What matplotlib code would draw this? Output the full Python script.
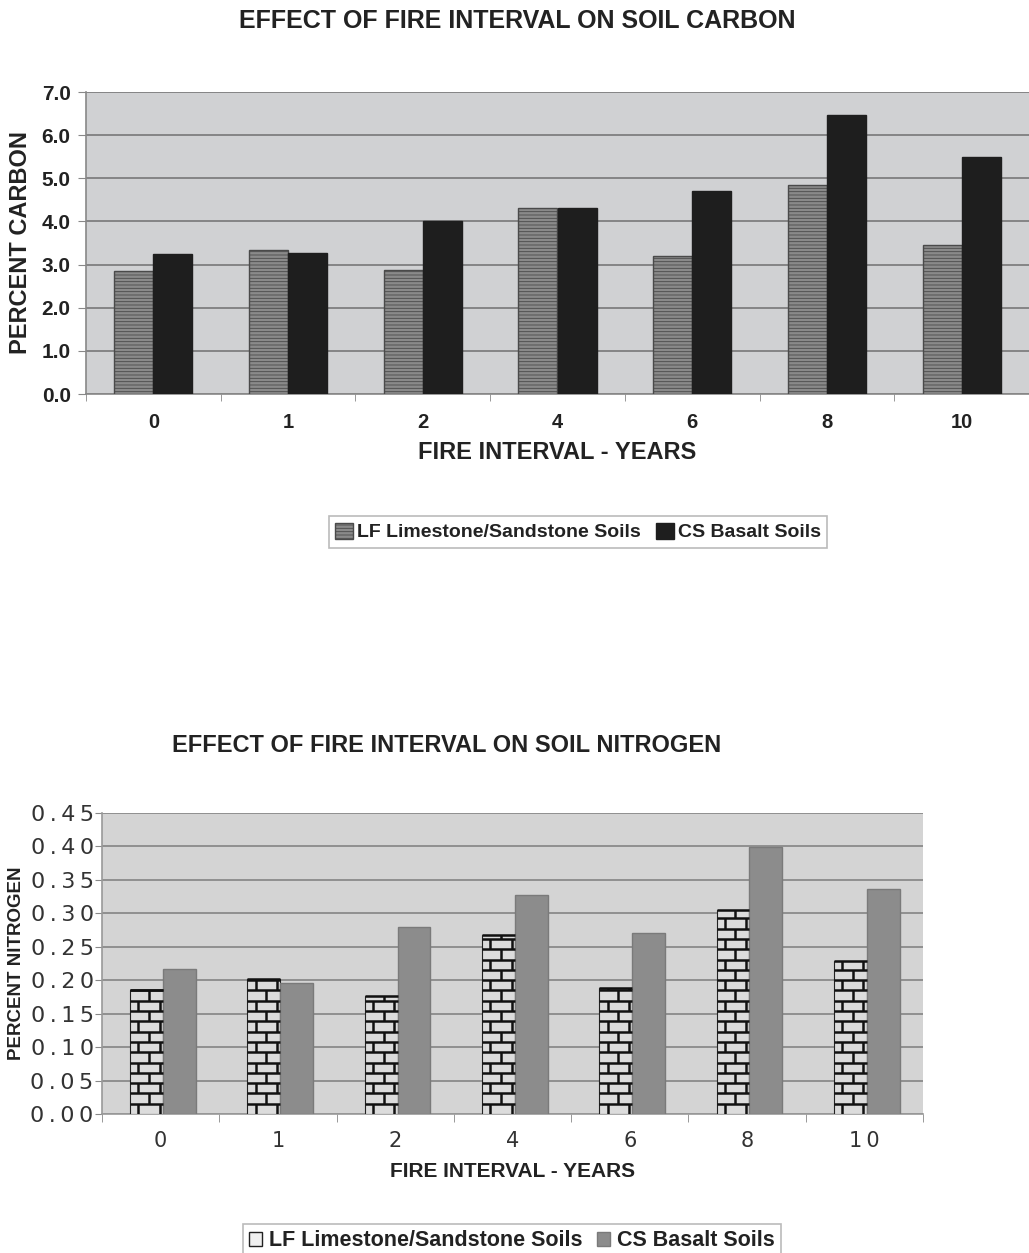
import numpy as np
import matplotlib
matplotlib.use("Agg")
import matplotlib.pyplot as plt
from matplotlib.collections import LineCollection
from matplotlib.patches import Patch

# fire interval categories (years)
intervals = ["0", "1", "2", "4", "6", "8", "10"]

# percent soil carbon
carbon_lf = [2.85, 3.33, 2.88, 4.31, 3.20, 4.85, 3.46]
carbon_cs = [3.25, 3.26, 4.02, 4.32, 4.71, 6.47, 5.50]

# percent soil nitrogen
nitrogen_lf = [0.185, 0.202, 0.177, 0.268, 0.188, 0.305, 0.228]
nitrogen_cs = [0.217, 0.196, 0.279, 0.327, 0.270, 0.399, 0.336]

lf_label = "LF Limestone/Sandstone Soils"
cs_label = "CS Basalt Soils"

plt.rcParams['font.family'] = ['Liberation Sans', 'DejaVu Sans']
plt.rcParams['hatch.linewidth'] = 0.6

W, H = 1029, 1253
fig = plt.figure(figsize=(W / 100, H / 100), dpi=100)


def box(left, top, right, bottom):
    # pixel box -> figure fraction
    return [left / W, 1 - bottom / H, (right - left) / W, (bottom - top) / H]


def draw_bricks(ax, rect, row_h):
    """Brick pattern drawn over a bar, rows/joints derived from the bar itself."""
    x0, w, h = rect.get_x(), rect.get_width(), rect.get_height()
    segs = []
    n_rows = int(np.ceil(h / row_h))
    for k in range(n_rows):
        y_lo = k * row_h
        y_hi = min((k + 1) * row_h, h)
        segs.append([(x0, y_hi), (x0 + w, y_hi)])
        start = 0.25 if k % 2 == 0 else 0.575
        pos = start
        while pos < 1.0:
            segs.append([(x0 + pos * w, y_lo), (x0 + pos * w, y_hi)])
            pos += 0.65
    lc = LineCollection(segs, colors='#111111', linewidths=1.8, zorder=4)
    lc.set_clip_path(rect)
    ax.add_collection(lc)


x = np.arange(len(intervals))

# ---------------- carbon chart ----------------
ax1 = fig.add_axes(box(86, 92, 1029, 394))
ax1.set_facecolor('#d0d1d3')
bw1 = 0.29
ax1.bar(x - bw1 / 2, carbon_lf, bw1, color='#8a8a8a', edgecolor='#4a4a4a',
        hatch='-----', linewidth=1.0, zorder=3)
ax1.bar(x + bw1 / 2, carbon_cs, bw1, color='#1e1e1e', edgecolor='#1e1e1e',
        linewidth=1.0, zorder=3)
ax1.set_xlim(-0.5, -0.5 + 943 / 136)
ax1.set_ylim(0, 7)
ax1.set_yticks(np.arange(0, 7.01, 1.0))
ax1.set_yticklabels([f"{v:.1f}" for v in np.arange(0, 7.01, 1.0)],
                    fontsize=15, fontweight='bold', color='#222222')
ax1.set_xticks(x)
ax1.set_xticklabels(intervals, fontsize=14.5, fontweight='bold', color='#222222')
ax1.set_xticks(np.arange(-0.5, 7, 1.0), minor=True)
ax1.tick_params(axis='x', which='major', length=0, pad=14)
ax1.tick_params(axis='x', which='minor', length=5, color='#888888')
ax1.tick_params(axis='y', length=6, color='#888888', pad=5)
ax1.yaxis.grid(True, color='#7f7f7f', linewidth=1.3, zorder=0)
ax1.set_axisbelow(True)
for s in ['top', 'right']:
    ax1.spines[s].set_visible(False)
for s in ['left', 'bottom']:
    ax1.spines[s].set_color('#888888')
    ax1.spines[s].set_linewidth(1.2)
ax1.set_xlabel("FIRE INTERVAL - YEARS", fontsize=17, fontweight='bold',
               color='#222222', labelpad=6)
ax1.set_ylabel("PERCENT CARBON", fontsize=17, fontweight='bold',
               color='#222222', labelpad=7)
fig.text(517 / W, 1 - 21 / H, "EFFECT OF FIRE INTERVAL ON SOIL CARBON",
         ha='center', va='center', fontsize=18, fontweight='bold', color='#222222')

leg1 = fig.legend(handles=[Patch(facecolor='#8a8a8a', edgecolor='#4a4a4a', hatch='-----'),
                           Patch(facecolor='#1e1e1e', edgecolor='#1e1e1e')],
                  labels=[lf_label, cs_label], loc='center',
                  bbox_to_anchor=(578 / W, 1 - 532 / H), ncol=2, frameon=True,
                  fancybox=False, prop={'weight': 'bold', 'size': 14},
                  handlelength=0.9, handleheight=0.9, handletextpad=0.2,
                  columnspacing=0.8, borderpad=0.35, edgecolor='#aaaaaa')
leg1.get_frame().set_linewidth(1.2)
for t in leg1.get_texts():
    t.set_color('#222222')

# ---------------- nitrogen chart ----------------
ax2 = fig.add_axes(box(102, 813, 923, 1114))
ax2.set_facecolor('#d4d4d4')
bw2 = 0.28
lf_bars = ax2.bar(x - bw2 / 2 + 0.02, nitrogen_lf, bw2, color='#dcdcdc',
                  edgecolor='#222222', linewidth=0.8, zorder=3)
ax2.bar(x + bw2 / 2 + 0.02, nitrogen_cs, bw2, color='#8c8c8c', edgecolor='#7a7a7a',
        linewidth=1.0, zorder=3)
row_h = 10.3 / (301 / 0.45)
for r in lf_bars:
    draw_bricks(ax2, r, row_h)
ax2.set_xlim(-0.5, 6.5)
ax2.set_ylim(0, 0.45)
yt = np.arange(0, 0.451, 0.05)
ax2.set_yticks(yt)
ax2.set_yticklabels(['\u2009'.join(f"{v:.2f}") for v in yt],
                    fontsize=16, family='DejaVu Sans', color='#333333')
ax2.set_xticks(x)
ax2.set_xticklabels(['\u2009'.join(s) for s in intervals],
                    fontsize=15, family='DejaVu Sans', color='#333333')
ax2.set_xticks(np.arange(-0.5, 7, 1.0), minor=True)
ax2.tick_params(axis='x', which='major', length=0, pad=12)
ax2.tick_params(axis='x', which='minor', length=6, color='#888888')
ax2.tick_params(axis='y', length=5, color='#888888', pad=1)
ax2.yaxis.grid(True, color='#8a8a8a', linewidth=1.3, zorder=0)
ax2.set_axisbelow(True)
for s in ['top', 'right']:
    ax2.spines[s].set_visible(False)
for s in ['left', 'bottom']:
    ax2.spines[s].set_color('#999999')
    ax2.spines[s].set_linewidth(1.2)
ax2.set_xlabel("FIRE INTERVAL - YEARS", fontsize=15, fontweight='bold',
               color='#222222', labelpad=8)
ax2.set_ylabel("PERCENT NITROGEN", fontsize=13.5, fontweight='bold',
               color='#222222', labelpad=4)
fig.text(447 / W, 1 - 745 / H, "EFFECT OF FIRE INTERVAL ON SOIL NITROGEN",
         ha='center', va='center', fontsize=17, fontweight='bold', color='#222222')

leg2 = fig.legend(handles=[Patch(facecolor='#f0f0f0', edgecolor='#222222'),
                           Patch(facecolor='#8c8c8c', edgecolor='#7a7a7a')],
                  labels=[lf_label, cs_label], loc='center',
                  bbox_to_anchor=(512 / W, 1 - 1241 / H), ncol=2, frameon=True,
                  fancybox=False, prop={'weight': 'bold', 'size': 15.5},
                  handlelength=0.6, handleheight=0.6, handletextpad=0.3,
                  columnspacing=0.7, borderpad=0.3, edgecolor='#aaaaaa')
leg2.get_frame().set_linewidth(1.2)
for t in leg2.get_texts():
    t.set_color('#222222')

fig.savefig("out.png", dpi=100)
